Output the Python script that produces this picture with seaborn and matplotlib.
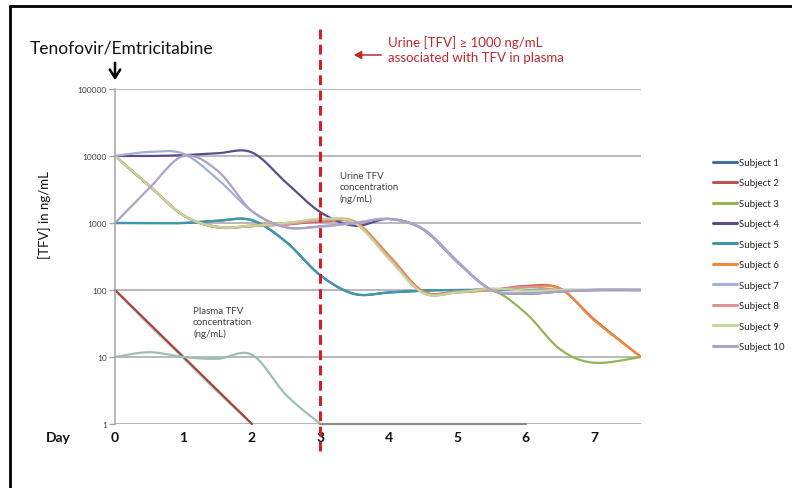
import numpy as np
import pandas as pd
import matplotlib
matplotlib.use("Agg")
import matplotlib.pyplot as plt
import matplotlib.transforms as mtransforms
from matplotlib.lines import Line2D
import seaborn as sns

# ---------------- data ----------------
days = [0, 0.5, 1, 1.5, 2, 2.5, 3, 3.5, 4, 4.5, 5, 5.5, 6, 6.5, 7, 7.68]
nan = np.nan

subject_names = [f"Subject {i}" for i in range(1, 11)]
subject_colors = ["#41719C", "#C0504D", "#94B552", "#5F4B8B", "#3F97AD",
                  "#F08A3C", "#A2AFD8", "#D99694", "#C3D69B", "#ADA2C8"]

# urine TFV concentration (ng/mL)
subject_1 = [1000, 1000, 1000, 1080, 1100, 520, 165, 87, 92, 98, 100, 100, 100, 100, 100, 100]
subject_2 = [10000, 3600, 1300, 860, 900, 950, 1050, 1000, 320, 95, 95, 100, 115, 105, 36, 10]
subject_3 = [10000, 3600, 1300, 880, 900, 980, 1120, 1000, 300, 90, 92, 100, 45, 13, 8.2, 10]
subject_4 = [10000, 10000, 10300, 11000, 11300, 4000, 1450, 910, 1150, 800, 260, 100, 88, 95, 100, 100]
subject_5 = [1000, 1000, 1000, 1080, 1100, 520, 165, 87, 92, 98, 100, 100, 100, 100, 100, 100]
subject_6 = [10000, 3600, 1300, 860, 920, 1000, 1100, 1050, 330, 95, 92, 100, 110, 105, 35, 10]
subject_7 = [10000, 11500, 10800, 4500, 1500, 860, 880, 1000, 1150, 800, 260, 100, 90, 95, 100, 100]
subject_8 = [10000, 3600, 1300, 870, 900, 960, 1080, 1000, 310, 92, 95, 100, 112, 100, 100, 100]
subject_9 = [10000, 3600, 1300, 870, 910, 1000, 1150, 1000, 290, 90, 92, 105, 98, 100, 100, 100]
subject_10 = [1000, 3300, 10000, 6000, 1500, 860, 900, 1000, 1150, 820, 270, 100, 88, 95, 100, 100]
urine = [subject_1, subject_2, subject_3, subject_4, subject_5,
         subject_6, subject_7, subject_8, subject_9, subject_10]

# plasma TFV concentration (ng/mL)
plasma_b = [100, 30, 9.6, 3.0, 1, nan, nan, nan, nan, nan, nan, nan, nan, nan, nan, nan]
plasma_a = [100, 31.6, 10, 3.16, 1, nan, nan, nan, nan, nan, nan, nan, nan, nan, nan, nan]
plasma_c = [10, 11.8, 10, 9.4, 10.8, 2.7, 1, nan, nan, nan, nan, nan, nan, nan, nan, nan]
plasma_d = [nan, nan, nan, nan, nan, nan, 1, 1, 1, 1, 1, 1, 1, nan, nan, nan]
plasma = [plasma_b, plasma_a, plasma_c, plasma_d]
plasma_colors = ["#A9D3C0", "#A8413C", "#9DBFB4", "#8C8C8C"]

ytick_vals = [1, 10, 100, 1000, 10000, 100000]
xtick_vals = [0, 1, 2, 3, 4, 5, 6, 7]


# -------- Excel-style smoothed line (Bezier through the data points) --------
def smooth_runs(xs, vs, n=30):
    xs = np.asarray(xs, float)
    vs = np.asarray(vs, float)
    ok = ~np.isnan(vs)
    runs, cur = [], []
    for i in range(len(xs)):
        if ok[i]:
            cur.append(i)
        elif cur:
            runs.append(cur); cur = []
    if cur:
        runs.append(cur)
    out = []
    for r in runs:
        P = np.column_stack([xs[r], np.log10(vs[r])])
        if len(P) == 1:
            continue
        segs = []
        for i in range(len(P) - 1):
            p0 = P[i - 1] if i > 0 else P[i]
            p1, p2 = P[i], P[i + 1]
            p3 = P[i + 2] if i + 2 < len(P) else P[i + 1]
            b1 = p1 + (p2 - p0) / 6.0
            b2 = p2 - (p3 - p1) / 6.0
            t = np.linspace(0, 1, n)[:, None]
            seg = ((1 - t) ** 3) * p1 + 3 * ((1 - t) ** 2) * t * b1 + 3 * (1 - t) * t ** 2 * b2 + t ** 3 * p2
            segs.append(seg if i == 0 else seg[1:])
        arr = np.vstack(segs)
        out.append((arr[:, 0], 10 ** arr[:, 1]))
    return out


sns.set_theme(style="white")
plt.rcParams["font.family"] = ["Lato", "DejaVu Sans"]

W, H = 792, 489
fig = plt.figure(figsize=(W / 100, H / 100), dpi=100)
ax = fig.add_axes([115 / W, 1 - 425 / H, (641 - 115) / W, (425 - 90) / H])

grid_c = "#A6A6A6"
ax.set_yscale("log")
ax.set_ylim(1, 100000)
ax.set_xlim(0, 7.68)
for v in ytick_vals:
    ax.axhline(v, color=grid_c, lw=1.1, zorder=0.5)

# plasma series
for vals, col in zip(plasma, plasma_colors):
    for sx, sy in smooth_runs(days, vals):
        df = pd.DataFrame({"day": sx, "conc": sy})
        sns.lineplot(data=df, x="day", y="conc", ax=ax, color=col, lw=1.6,
                     sort=False, estimator=None, legend=False, clip_on=False)

# urine series
for vals, col, name in zip(urine, subject_colors, subject_names):
    for sx, sy in smooth_runs(days, vals):
        df = pd.DataFrame({"day": sx, "conc": sy})
        sns.lineplot(data=df, x="day", y="conc", ax=ax, color=col, lw=1.6,
                     sort=False, estimator=None, legend=False)

# axes styling
for s in ["top", "right", "bottom"]:
    ax.spines[s].set_visible(False)
ax.spines["left"].set_color(grid_c)
ax.spines["left"].set_linewidth(1.1)
ax.set_yticks(ytick_vals)
ax.set_yticklabels([str(v) for v in ytick_vals])
ax.yaxis.set_minor_locator(matplotlib.ticker.NullLocator())
ax.tick_params(axis="y", which="major", left=True, length=4, width=1, color=grid_c,
               labelsize=6, labelcolor="#404040", pad=2)
ax.set_xticks(xtick_vals)
ax.set_xticklabels([str(v) for v in xtick_vals], fontweight="bold")
ax.tick_params(axis="x", bottom=False, length=0, labelsize=10, pad=5, labelcolor="#111111")
ax.set_xlabel("")
ax.set_ylabel("")

def fx(px):
    return px / W

def fy(py):
    return 1 - py / H

# red dashed vertical line at day 3
blend = mtransforms.blended_transform_factory(ax.transData, fig.transFigure)
ln, = ax.plot([3, 3], [fy(30), fy(452)], transform=blend, color="#D0202A", lw=2.2,
              clip_on=False, zorder=5)
ln.set_dashes([3.2, 1.8])

# texts
fig.text(fx(30), fy(48), "Tenofovir/Emtricitabine", fontsize=12.5, ha="left", va="center", color="#111111")
fig.text(fx(45), fy(215), "[TFV] in ng/mL", rotation=90, fontsize=9.5, ha="center", va="center", color="#111111")
fig.text(fx(58), fy(438), "Day", fontsize=10, fontweight="bold", ha="center", va="center", color="#111111")
fig.text(fx(388), fy(50), "Urine [TFV] \u2265 1000 ng/mL\nassociated with TFV in plasma",
         fontsize=9.5, ha="left", va="center", color="#C0282D", linespacing=1.35)
fig.text(fx(340), fy(188), "Urine TFV\nconcentration\n(ng/mL)", fontsize=7, ha="left", va="center",
         color="#404040", linespacing=1.3)
fig.text(fx(193), fy(323), "Plasma TFV\nconcentration\n(ng/mL)", fontsize=7, ha="left", va="center",
         color="#404040", linespacing=1.3)

# arrows
fig.add_artist(matplotlib.patches.FancyArrowPatch((fx(115), fy(61)), (fx(115), fy(84)),
               transform=fig.transFigure, arrowstyle="->,head_length=4,head_width=2.5",
               color="black", lw=1.8, mutation_scale=1.5))
fig.add_artist(matplotlib.patches.FancyArrowPatch((fx(384), fy(56)), (fx(351), fy(56)),
               transform=fig.transFigure, arrowstyle="-|>,head_length=3,head_width=1.6",
               color="#C0282D", lw=1.1, mutation_scale=1.5))

# frame
fig.add_artist(Line2D([fx(10), 1.0], [fy(7), fy(7)], transform=fig.transFigure, color="black", lw=2))
fig.add_artist(Line2D([fx(10), fx(10)], [fy(7), 0.0], transform=fig.transFigure, color="black", lw=2))

# legend
handles = [Line2D([0], [0], color=c, lw=2.2) for c in subject_colors]
ax.legend(handles, subject_names, loc="upper left", bbox_to_anchor=(fx(713), fy(159)),
          bbox_transform=fig.transFigure, frameon=False, fontsize=7, handlelength=2.5,
          handletextpad=0.15, labelspacing=1.18, borderpad=0, borderaxespad=0,
          labelcolor="#222222")

fig.savefig("out.png", dpi=100)
